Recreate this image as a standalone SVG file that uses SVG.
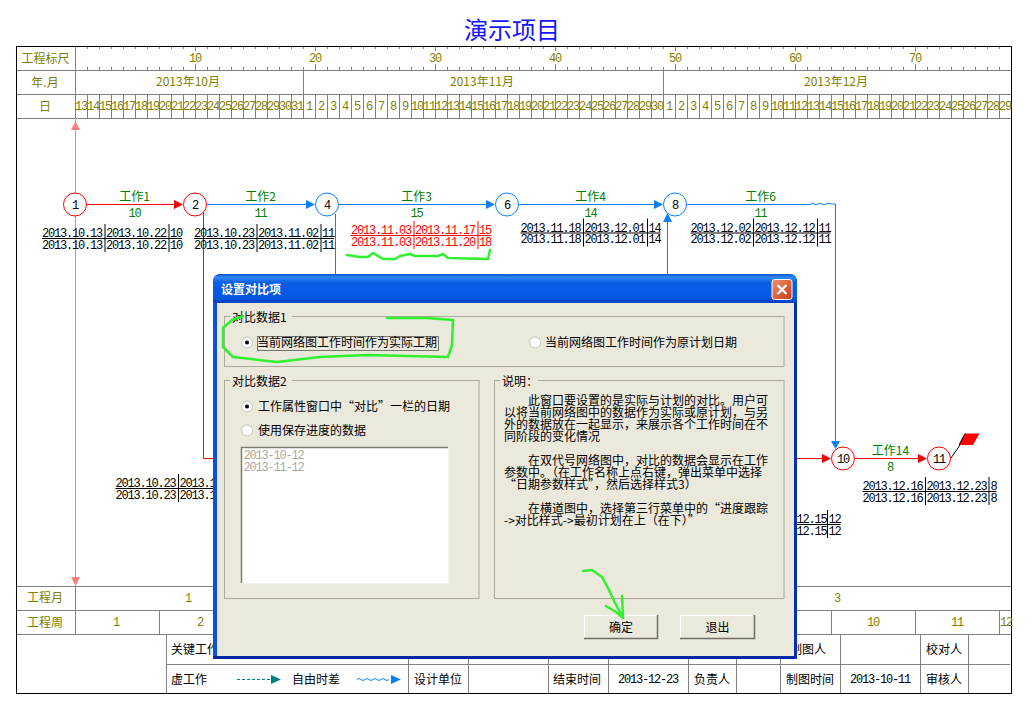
<svg xmlns="http://www.w3.org/2000/svg" xmlns:xlink="http://www.w3.org/1999/xlink" width="1033" height="720" viewBox="0 0 1033 720">
<style>
text{font-family:"Noto Sans CJK SC","Liberation Sans",sans-serif;font-size:12px;fill:#000}
.m{font-family:"Liberation Mono","Noto Sans CJK SC",monospace;letter-spacing:-1.2px}
.o{fill:#808000}
.c{text-anchor:middle}
.g{fill:#008000}
.r{fill:#f00}
.grid{stroke:#808080;stroke-width:1;fill:none}
.n{fill:#fff;stroke-width:1}
.red{stroke:#f00;fill:none}
.blue{stroke:#0a80ff;fill:none}
.ah-r{fill:#f00}
.ah-b{fill:#0a80ff}
.box{fill:none;stroke:#aca899}
.lab{fill:#ebe9dc}
.mark{fill:none;stroke:#30f030;stroke-width:2.500;stroke-linecap:round;stroke-linejoin:round}
</style>
<defs>
<linearGradient id="tb" x1="0" y1="0" x2="0" y2="1">
<stop offset="0" stop-color="#0a56d6"/><stop offset=".12" stop-color="#2f86f2"/><stop offset=".3" stop-color="#0a5ee6"/><stop offset=".8" stop-color="#0358e4"/><stop offset="1" stop-color="#0340c0"/>
</linearGradient>
<linearGradient id="cl" x1="0" y1="0" x2="1" y2="1"><stop offset="0" stop-color="#ee9070"/><stop offset="1" stop-color="#c83c14"/></linearGradient>
<g id="tl"><path d="M0 .5H140M63 -14V14M127 -14V14" stroke="currentColor" fill="none"/></g>
</defs>
<rect width="1033" height="720" fill="#fff"/>
<text x="512" y="39" class="c" style="font-size:24px;fill:#1414ff">演示项目</text>

<g id="grid">
<path class="grid" d="M75.5 46V118M16 70.5H1011M16 94.5H1011M16 118.5H1011M303.5 70V94M663.5 70V94M16 586.5H1011M16 610.5H1011M16 634.5H1011M75.5 586V634M159.5 610V634M831.5 610V634M915.5 610V634M999.5 610V634M166.5 634V693M167 664.5H1010M408.5 634V693M468.5 634V693M548.5 634V693M608.5 634V693M688.5 634V693M736.5 634V693M780.5 634V693M840.5 634V693M920.5 634V693M968.5 634V693"/>
<path d="M75 47.5H1011M75 68.5H1011" stroke="#808080" stroke-width="3" stroke-dasharray="1 11" fill="none"/>
<path d="M195.5 46V51M315.5 46V51M435.5 46V51M555.5 46V51M675.5 46V51M795.5 46V51M915.5 46V51M195.5 64V70M315.5 64V70M435.5 64V70M555.5 64V70M675.5 64V70M795.5 64V70M915.5 64V70" class="grid"/>
<path d="M87 106H1011" stroke="#808080" stroke-width="24" stroke-dasharray="1 11" fill="none"/>
<rect x="16.5" y="46.5" width="995" height="647" fill="none" stroke="#000"/>
</g>

<g id="scale-labels">
<text x="45.5" y="62.5" class="c o">工程标尺</text>
<text x="45" y="86.5" class="c o">年.月</text>
<text x="45" y="110.5" class="c o">日</text>
<text x="45" y="602" class="c o">工程月</text>
<text x="45" y="626.5" class="c o">工程周</text>
<g class="m o c"><text x="195" y="62" class="m o c">10</text><text x="315" y="62" class="m o c">20</text><text x="435" y="62" class="m o c">30</text><text x="555" y="62" class="m o c">40</text><text x="675" y="62" class="m o c">50</text><text x="795" y="62" class="m o c">60</text><text x="915" y="62" class="m o c">70</text></g>
<text x="188" y="86" class="c o">2013年10月</text>
<text x="482" y="86" class="c o">2013年11月</text>
<text x="836" y="86" class="c o">2013年12月</text>
<text x="188" y="602" class="m o c">1</text><text x="837" y="602" class="m o c">3</text>
<text x="116" y="626" class="m o c">1</text><text x="200" y="626" class="m o c">2</text><text x="873" y="626" class="m o c">10</text><text x="957" y="626" class="m o c">11</text><text x="1000" y="626" class="m o">12</text>
</g>

<g id="days">
<text x="81" y="110" class="m o c">13</text><text x="93" y="110" class="m o c">14</text><text x="105" y="110" class="m o c">15</text><text x="117" y="110" class="m o c">16</text><text x="129" y="110" class="m o c">17</text><text x="141" y="110" class="m o c">18</text><text x="153" y="110" class="m o c">19</text><text x="165" y="110" class="m o c">20</text><text x="177" y="110" class="m o c">21</text><text x="189" y="110" class="m o c">22</text><text x="201" y="110" class="m o c">23</text><text x="213" y="110" class="m o c">24</text><text x="225" y="110" class="m o c">25</text><text x="237" y="110" class="m o c">26</text><text x="249" y="110" class="m o c">27</text><text x="261" y="110" class="m o c">28</text><text x="273" y="110" class="m o c">29</text><text x="285" y="110" class="m o c">30</text><text x="297" y="110" class="m o c">31</text>
<text x="309" y="110" class="m o c">1</text><text x="321" y="110" class="m o c">2</text><text x="333" y="110" class="m o c">3</text><text x="345" y="110" class="m o c">4</text><text x="357" y="110" class="m o c">5</text><text x="369" y="110" class="m o c">6</text><text x="381" y="110" class="m o c">7</text><text x="393" y="110" class="m o c">8</text><text x="405" y="110" class="m o c">9</text><text x="417" y="110" class="m o c">10</text><text x="429" y="110" class="m o c">11</text><text x="441" y="110" class="m o c">12</text><text x="453" y="110" class="m o c">13</text><text x="465" y="110" class="m o c">14</text><text x="477" y="110" class="m o c">15</text><text x="489" y="110" class="m o c">16</text><text x="501" y="110" class="m o c">17</text><text x="513" y="110" class="m o c">18</text><text x="525" y="110" class="m o c">19</text><text x="537" y="110" class="m o c">20</text><text x="549" y="110" class="m o c">21</text><text x="561" y="110" class="m o c">22</text><text x="573" y="110" class="m o c">23</text><text x="585" y="110" class="m o c">24</text><text x="597" y="110" class="m o c">25</text><text x="609" y="110" class="m o c">26</text><text x="621" y="110" class="m o c">27</text><text x="633" y="110" class="m o c">28</text><text x="645" y="110" class="m o c">29</text><text x="657" y="110" class="m o c">30</text>
<text x="669" y="110" class="m o c">1</text><text x="681" y="110" class="m o c">2</text><text x="693" y="110" class="m o c">3</text><text x="705" y="110" class="m o c">4</text><text x="717" y="110" class="m o c">5</text><text x="729" y="110" class="m o c">6</text><text x="741" y="110" class="m o c">7</text><text x="753" y="110" class="m o c">8</text><text x="765" y="110" class="m o c">9</text><text x="777" y="110" class="m o c">10</text><text x="789" y="110" class="m o c">11</text><text x="801" y="110" class="m o c">12</text><text x="813" y="110" class="m o c">13</text><text x="825" y="110" class="m o c">14</text><text x="837" y="110" class="m o c">15</text><text x="849" y="110" class="m o c">16</text><text x="861" y="110" class="m o c">17</text><text x="873" y="110" class="m o c">18</text><text x="885" y="110" class="m o c">19</text><text x="897" y="110" class="m o c">20</text><text x="909" y="110" class="m o c">21</text><text x="921" y="110" class="m o c">22</text><text x="933" y="110" class="m o c">23</text><text x="945" y="110" class="m o c">24</text><text x="957" y="110" class="m o c">25</text><text x="969" y="110" class="m o c">26</text><text x="981" y="110" class="m o c">27</text><text x="993" y="110" class="m o c">28</text><text x="1005" y="110" class="m o c">29</text>
</g>

<g id="legend">
<text x="171" y="653.5">关键工作</text>
<text x="171" y="683.5">虚工作</text>
<path d="M237 679.5H272" stroke="#008080" stroke-dasharray="3 2" fill="none"/><path d="M271 675L281 679.5L271 684Z" fill="#008080"/>
<text x="292" y="683.5">自由时差</text>
<path d="M357 679.5q2 -2 4 0t4 0t4 0t4 0t4 0t4 0t4 0t4 0" class="blue"/><path d="M391 675L401 679.5L391 684Z" class="ah-b"/>
<text x="414" y="683.5">设计单位</text>
<text x="553" y="683.5">结束时间</text>
<text x="648" y="683" class="m c">2013-12-23</text>
<text x="694" y="683.5">负责人</text>
<text x="790" y="653.5">制图人</text>
<text x="786" y="683.5">制图时间</text>
<text x="880" y="683" class="m c">2013-10-11</text>
<text x="926" y="653.5">校对人</text>
<text x="926" y="683.5">审核人</text>
</g>

<g id="connectors">
<path d="M75.5 118V586" stroke="#ff8080" fill="none"/>
<path d="M75.5 121L80 130H71ZM75.5 586L80 577H71Z" fill="#ff8080"/>
<path d="M87 204.5H175M203.5 212V458.5H214M796 458.5H823M855 458.5H919" class="red"/>
<path d="M174 200L183 204.5L174 209ZM822 454L831 458.5L822 463ZM918 454L927 458.5L918 463Z" class="ah-r"/>
<path d="M207 204.5H307M339 204.5H487M519 204.5H655M687 204.5H810M335.5 214V276M667.5 222V276M835.5 204V442" class="blue"/>
<path d="M810 204.5q2 -2 4 -.5t4 0t4 0t4 0t4 -.5t5.500 .5" class="blue"/>
<path d="M306 200L315 204.5L306 209ZM486 200L495 204.5L486 209ZM654 200L663 204.5L654 209ZM667.500 213L672 222H663ZM835.500 449L840 441H831Z" class="ah-b"/>
</g>

<g id="node-1"><circle class="n red" cx="75" cy="204.500" r="11.500" style="fill:#fff"/><text x="75" y="208.500" class="m c">1</text></g>
<g id="node-2"><circle class="n red" cx="195" cy="204.500" r="11.500" style="fill:#fff"/><text x="195" y="208.500" class="m c">2</text></g>
<g id="node-4"><circle class="n blue" cx="327" cy="204.500" r="11.500" style="fill:#fff"/><text x="327" y="208.500" class="m c">4</text></g>
<g id="node-6"><circle class="n blue" cx="507" cy="204.500" r="11.500" style="fill:#fff"/><text x="507" y="208.500" class="m c">6</text></g>
<g id="node-8"><circle class="n blue" cx="675" cy="204.500" r="11.500" style="fill:#fff"/><text x="675" y="208.500" class="m c">8</text></g>
<g id="node-10"><circle class="n red" cx="843" cy="458.500" r="11.500" style="fill:#fff"/><text x="843" y="462.500" class="m c">10</text></g>
<g id="node-11"><circle class="n red" cx="939" cy="458.500" r="11.500" style="fill:#fff"/><text x="939" y="462.500" class="m c">11</text></g>
<g id="flag"><path d="M951 458L960 445" stroke="#000" fill="none"/><path d="M959 445L965 433.500H979.500L973 445Z" fill="#f00"/><path d="M959 445L965 433.500" stroke="#000" fill="none"/></g>

<g id="work-labels">
<text x="134.500" y="200.500" class="c g">工作1</text><text x="134.500" y="217" class="m c g">10</text>
<text x="260.500" y="200.500" class="c g">工作2</text><text x="260.500" y="217" class="m c g">11</text>
<text x="416.500" y="200.500" class="c g">工作3</text><text x="416.500" y="217" class="m c g">15</text>
<text x="590.500" y="200.500" class="c g">工作4</text><text x="590.500" y="217" class="m c g">14</text>
<text x="760.500" y="200.500" class="c g">工作6</text><text x="760.500" y="217" class="m c g">11</text>
<text x="890.500" y="454.500" class="c g">工作14</text><text x="890" y="471" class="m c g">8</text>
</g>

<g id="date-tables">
<g transform="translate(42,238)"><use xlink:href="#tl" color="#000"/><text y="-1" class="m">2013.10.13</text><text x="64" y="-1" class="m">2013.10.22</text><text x="128" y="-1" class="m">10</text><text y="10.500" class="m">2013.10.13</text><text x="64" y="10.500" class="m">2013.10.22</text><text x="128" y="10.500" class="m">10</text></g>
<g transform="translate(194,238)"><use xlink:href="#tl" color="#000"/><text y="-1" class="m">2013.10.23</text><text x="64" y="-1" class="m">2013.11.02</text><text x="128" y="-1" class="m">11</text><text y="10.500" class="m">2013.10.23</text><text x="64" y="10.500" class="m">2013.11.02</text><text x="128" y="10.500" class="m">11</text></g>
<g transform="translate(351,235)"><use xlink:href="#tl" color="#f00"/><text y="-1" class="m r">2013.11.03</text><text x="64" y="-1" class="m r">2013.11.17</text><text x="128" y="-1" class="m r">15</text><text y="10.500" class="m r">2013.11.03</text><text x="64" y="10.500" class="m r">2013.11.20</text><text x="128" y="10.500" class="m r">18</text></g>
<g transform="translate(520.500,232.500)"><use xlink:href="#tl" color="#000"/><text y="-1" class="m">2013.11.18</text><text x="64" y="-1" class="m">2013.12.01</text><text x="128" y="-1" class="m">14</text><text y="10.500" class="m">2013.11.18</text><text x="64" y="10.500" class="m">2013.12.01</text><text x="128" y="10.500" class="m">14</text></g>
<g transform="translate(690.500,232.500)"><use xlink:href="#tl" color="#000"/><text y="-1" class="m">2013.12.02</text><text x="64" y="-1" class="m">2013.12.12</text><text x="128" y="-1" class="m">11</text><text y="10.500" class="m">2013.12.02</text><text x="64" y="10.500" class="m">2013.12.12</text><text x="128" y="10.500" class="m">11</text></g>
<g transform="translate(115.500,488)"><use xlink:href="#tl" color="#000"/><text y="-1" class="m">2013.10.23</text><text x="64" y="-1" class="m">2013.1</text><text y="10.500" class="m">2013.10.23</text><text x="64" y="10.500" class="m">2013.1</text></g>
<g transform="translate(700.500,524)"><use xlink:href="#tl" color="#000"/><text x="96" y="-1" class="m">12.15</text><text x="128" y="-1" class="m">12</text><text x="96" y="10.500" class="m">12.15</text><text x="128" y="10.500" class="m">12</text></g>
<g transform="translate(862.500,491)"><path d="M0 .5H134M63 -14V14M126.500 -14V14" stroke="#000" fill="none"/><text y="-1" class="m">2013.12.16</text><text x="64" y="-1" class="m">2013.12.23</text><text x="128" y="-1" class="m">8</text><text y="10.500" class="m">2013.12.16</text><text x="64" y="10.500" class="m">2013.12.23</text><text x="128" y="10.500" class="m">8</text></g>
</g>

<path id="annotation-dates" class="mark" d="M347 255L360 257L368 257L373 253L383 259L395 259L400 256L410 254L415 256L438 256L443 254L448 258L488 259L490 250"/>

<g id="dialog">
<path d="M213 659V282Q213 274 221 274H789Q797 274 797 282V659Z" fill="#0a52dc"/>
<path d="M213 656H797V659H213Z" fill="#0028a8"/>
<path d="M794 303H797V659H794Z" fill="#0030b8"/>
<path d="M213 282Q213 274 221 274H789Q797 274 797 282V303H213Z" fill="url(#tb)"/>
<rect x="217" y="303" width="577" height="353" fill="#ebe9dc"/>
<text x="221" y="293.500" style="fill:#fff;font-weight:700">设置对比项</text>
<g id="dialog-close"><rect x="772" y="279.500" width="20" height="20" rx="2.500" fill="url(#cl)" stroke="#fff"/><path d="M777.500 285L786.500 294M786.500 285L777.500 294" stroke="#fff" stroke-width="2.200" fill="none"/></g>

<rect class="box" x="224.500" y="316.500" width="559.500" height="50"/>
<rect class="lab" x="230" y="311" width="62" height="12"/>
<text x="232" y="321.500">对比数据1</text>
<circle cx="247" cy="342.500" r="5.500" fill="#fff" stroke="#c8c6b8"/><circle cx="247" cy="342.500" r="2" fill="#000"/>
<text x="257" y="347.200">当前网络图工作时间作为实际工期</text>
<rect x="257.500" y="336.500" width="181" height="14" fill="none" stroke="#000" stroke-dasharray="1 1"/>
<circle cx="535" cy="342.500" r="5.500" fill="#fff" stroke="#c8c6b8"/>
<text x="545" y="347.200">当前网络图工作时间作为原计划日期</text>

<rect class="box" x="224.500" y="380.500" width="254.500" height="218"/>
<rect class="lab" x="230" y="375" width="62" height="12"/>
<text x="232" y="385.500">对比数据2</text>
<circle cx="247" cy="406.500" r="5.500" fill="#fff" stroke="#c8c6b8"/><circle cx="247" cy="406.500" r="2" fill="#000"/>
<text x="258" y="411">工作属性窗口中“对比”一栏的日期</text>
<circle cx="247" cy="430.500" r="5.500" fill="#fff" stroke="#c8c6b8"/>
<text x="258" y="435">使用保存进度的数据</text>
<rect x="241" y="447.500" width="207.500" height="135.500" fill="#fff"/>
<path d="M241.500 583V447.500H448" fill="none" stroke="#7f7d70" stroke-width="1.500"/>
<path d="M241 583.500H449V447" fill="none" stroke="#f5f4ee"/>
<text x="243.500" y="459" class="m" style="fill:#aaa99e">2013-10-12</text>
<text x="243.500" y="471" class="m" style="fill:#aaa99e">2013-11-12</text>

<rect class="box" x="494.500" y="380.500" width="289.500" height="218"/>
<rect class="lab" x="500" y="375" width="38" height="12"/>
<text x="502" y="385.500">说明：</text>
<text x="528" y="405">此窗口要设置的是实际与计划的对比。用户可</text>
<text x="504" y="417">以将当前网络图中的数据作为实际或原计划，与另</text>
<text x="504" y="429">外的数据放在一起显示，来展示各个工作时间在不</text>
<text x="504" y="441">同阶段的变化情况</text>
<text x="528" y="465">在双代号网络图中，对比的数据会显示在工作</text>
<text x="504" y="477">参数中。（在工作名称上点右键，弹出菜单中选择</text>
<text x="504" y="489">“日期参数样式”，然后选择样式3）</text>
<text x="528" y="513">在横道图中，选择第三行菜单中的“进度跟踪</text>
<text x="504" y="525">-&gt;对比样式-&gt;最初计划在上（在下）”</text>

<g id="btn-ok"><rect x="584" y="615" width="74" height="24" fill="#ebe9dc"/><path d="M584.500 639V615.500H658" fill="none" stroke="#fff"/><path d="M584 638.500H657.500V615" fill="none" stroke="#716f64" stroke-width="1.500"/><text x="621" y="631.500" class="c">确定</text></g>
<g id="btn-exit"><rect x="680" y="615" width="75" height="24" fill="#ebe9dc"/><path d="M680.500 639V615.500H755" fill="none" stroke="#fff"/><path d="M680 638.500H754.500V615" fill="none" stroke="#716f64" stroke-width="1.500"/><text x="717.500" y="631.500" class="c">退出</text></g>
</g>

<path id="annotation-ring" class="mark" d="M243 316L232 320L223 328L223 347L233 357L277 362L320 357L367 355L448 357L452 345L453 320L427 318L387 318"/>
<path id="annotation-arrow" class="mark" d="M583 571L592 570L602 577L608 588L615 603L623 618M606 606L616 612L623 618L622 596"/>
</svg>
